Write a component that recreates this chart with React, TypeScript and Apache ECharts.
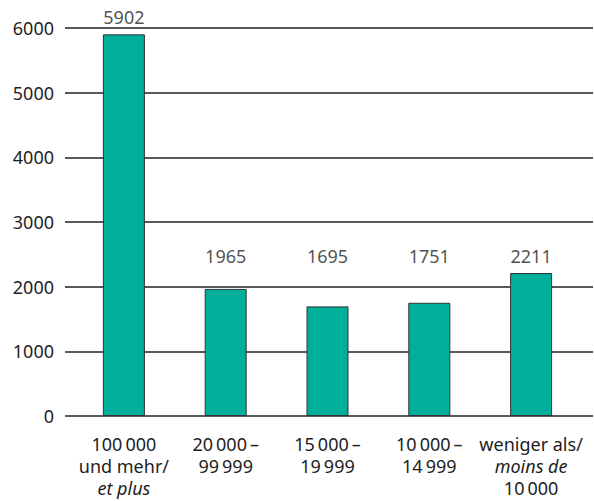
import React, { useEffect, useRef } from "react";
import * as echarts from "echarts";

const categories = [
  "100\u202F000\nund mehr/\net plus",
  "20\u202F000\u2009–\n99\u202F999",
  "15\u202F000\u2009–\n19\u202F999",
  "10\u202F000\u2009–\n14\u202F999",
  "weniger als/\nmoins de\n10\u202F000",
];
const italicLines = ["et plus", "moins de"];
const values = [5902, 1965, 1695, 1751, 2211];
const yTicks = [0, 1000, 2000, 3000, 4000, 5000, 6000];

const FONT = "'Noto Sans', sans-serif";
const TEXT = "#1e1e1e";
const FS = 18;

export default function App() {
  const ref = useRef<HTMLDivElement>(null);
  useEffect(() => {
    if (!ref.current) return;
    const chart = echarts.init(ref.current, undefined, { renderer: "svg" });
    const lowValues = values.filter((v) => v < 3000);
    const lowMax = Math.max(...lowValues);
    const anchors = values.map((v) => (v < 3000 ? lowMax : v));
    const yMin = yTicks[0];
    const yMax = yTicks[yTicks.length - 1];
    chart.setOption({
      animation: false,
      textStyle: { fontFamily: FONT },
      grid: [
        { left: 65, right: 1, top: 28, bottom: 85 },
        { left: 73, right: 12, top: 28, bottom: 85 },
      ],
      xAxis: [
        { type: "category", gridIndex: 0, data: categories, show: false },
        {
          type: "category",
          gridIndex: 1,
          data: categories,
          axisLine: { show: false },
          axisTick: { show: false },
          axisLabel: {
            margin: 17,
            interval: 0,
            formatter: (val: string) =>
              val
                .split("\n")
                .map((l) => (italicLines.includes(l) ? `{i|${l}}` : `{n|${l}}`))
                .join("\n"),
            rich: {
              n: { fontSize: FS, lineHeight: 22, color: TEXT, fontFamily: FONT },
              i: { fontSize: FS, lineHeight: 22, color: TEXT, fontFamily: FONT, fontStyle: "italic" },
            },
          },
        },
      ],
      yAxis: [
        {
          type: "value",
          gridIndex: 0,
          min: yMin,
          max: yMax,
          interval: 1000,
          axisLine: { show: false },
          axisTick: { show: false },
          axisLabel: {
            margin: 11,
            fontSize: FS,
            color: TEXT,
            fontFamily: FONT,
            formatter: (v: number) => String(v),
          },
          splitLine: { lineStyle: { color: "#222", width: 1.5 } },
        },
        {
          type: "value",
          gridIndex: 1,
          min: yMin,
          max: yMax,
          interval: 1000,
          show: false,
          splitLine: { show: false },
        },
      ],
      series: [
        {
          type: "bar",
          xAxisIndex: 1,
          yAxisIndex: 1,
          data: values,
          barWidth: 42,
          itemStyle: { color: "#00AE9C", borderColor: "#333", borderWidth: 1 },
          z: 3,
        },
        {
          type: "scatter",
          xAxisIndex: 1,
          yAxisIndex: 1,
          symbolSize: 0,
          data: anchors.map((a, i) => ({ value: [i, a], raw: values[i] })),
          label: {
            show: true,
            position: "top",
            distance: 8,
            fontSize: FS,
            color: TEXT,
            fontFamily: FONT,
            formatter: (p: any) => String(p.data.raw),
          },
          z: 4,
        },
      ],
    });
    return () => chart.dispose();
  }, []);
  return <div ref={ref} style={{ width: 594, height: 501, position: "absolute", left: 0, top: 0 }} />;
}
